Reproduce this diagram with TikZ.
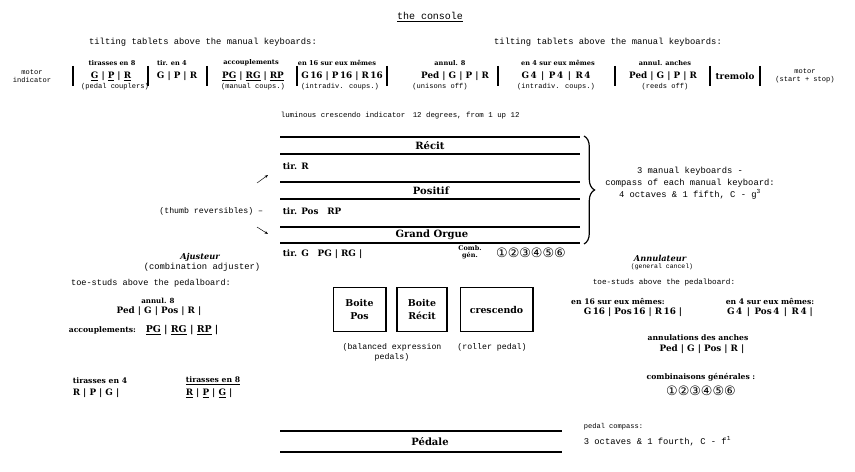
\documentclass[tikz,border=0pt]{standalone}
\usepackage{fontspec}
\newfontfamily\slabfont{DejaVu Serif}
\newfontfamily\typefont{Liberation Mono}
\newfontfamily\circfont{DejaVu Sans}
\usetikzlibrary{arrows.meta, positioning, decorations.pathreplacing}

\tikzset{
  note/.style={font=\typefont\fontsize{6}{7}\selectfont, inner sep=0.5pt, align=center},
  remark/.style={font=\typefont\fontsize{7.5}{10}\selectfont, inner sep=0.5pt, align=center},
  tabhead/.style={font=\slabfont\bfseries\fontsize{5.6}{7}\selectfont, inner sep=0.5pt},
  tablet/.style={font=\slabfont\bfseries\fontsize{7.5}{9}\selectfont, inner sep=0.5pt},
  manual/.style={font=\slabfont\bfseries\fontsize{8.5}{10}\selectfont, inner sep=0.5pt},
  headital/.style={font=\slabfont\bfseries\itshape\fontsize{7}{8}\selectfont, inner sep=0.5pt},
  kbline/.style={line width=0.9pt},
  sepbar/.style={line width=1.3pt},
  pedalbox/.style={draw, line width=0.9pt, minimum height=38pt, align=center,
    font=\slabfont\bfseries\fontsize{8}{11}\selectfont},
  circles/.style={font=\circfont\fontsize{11}{12}\selectfont, inner sep=0pt},
}

\begin{document}
\begin{tikzpicture}[x=0.85pt, y=-0.85pt]
  \useasboundingbox (0,0) rectangle (855,472);
  % headings
  \node[remark, font=\typefont\fontsize{8.5}{10}\selectfont] (title) at (430,17) {\underline{the console}};
  \node[remark] (tiltleft) at (203,42) {tilting tablets above the manual keyboards:};
  \node[remark] (tiltright) at (608,42) {tilting tablets above the manual keyboards:};
  % row of tilting tablets
  \node[note] (motorind) at (32,76) {motor\\indicator};
  \node[tabhead] (tir8head) at (112,63) {tirasses en 8};
  \node[tablet] (tir8) at (111,76) {\underline{G} | \underline{P} | \underline{R}};
  \node[note] (tir8note) at (115,87) {(pedal couplers)};
  \node[tabhead] (tir4head) at (172,63) {tir. en 4};
  \node[tablet] (tir4) at (177,76) {G | P | R};
  \node[tabhead] (acchead) at (251,63) {accouplements};
  \node[tablet] (acc) at (253,76) {\underline{PG} | \underline{RG} | \underline{RP}};
  \node[note] (accnote) at (253,87) {(manual coups.)};
  \node[tabhead] (sub16head) at (337,63) {en 16 sur eux mêmes};
  \node[tablet] (sub16) at (342,76) {G\,16 | P\,16 | R\,16};
  \node[note] (sub16note) at (340,87) {(intradiv. coups.)};
  \node[tabhead] (annul8head) at (450,63) {annul. 8};
  \node[tablet] (annul8) at (455,76) {Ped | G | P | R};
  \node[note] (annul8note) at (440,87) {(unisons off)};
  \node[tabhead] (sup4head) at (558,63) {en 4 sur eux mêmes};
  \node[tablet] (sup4) at (556,76) {G\,4 \,|\, P\,4 \,|\, R\,4};
  \node[note] (sup4note) at (556,87) {(intradiv. coups.)};
  \node[tabhead] (ancheshead) at (665,63) {annul. anches};
  \node[tablet] (anches) at (663,76) {Ped | G | P | R};
  \node[note] (anchesnote) at (665,87) {(reeds off)};
  \node[tablet] (tremolo) at (735,76) {tremolo};
  \node[note] (motorss) at (805,76) {motor\\(start + stop)};
  \foreach \x in {73,148,207,297,387,498,615,710,760}
    \draw[sepbar] (\x,66) -- (\x,86);
  \node[note, anchor=west, font=\typefont\fontsize{6.3}{7}\selectfont] (lumin) at (280,116)
    {luminous crescendo indicator\quad 12 degrees, from 1 up 12};
  % manual keyboards
  \foreach \y in {137,154,182,199,227,243}
    \draw[kbline] (280,\y) -- (580,\y);
  \node[manual] (recit) at (430,146) {Récit};
  \node[manual] (positif) at (431,191) {Positif};
  \node[manual] (grandorgue) at (432,235) {Grand Orgue};
  \node[tablet, anchor=west] (tirR) at (282,166) {tir. R};
  \node[tablet, anchor=west] (tirPos) at (282,211) {tir. Pos\quad RP};
  \node[tablet, anchor=west] (tirG) at (282,254) {tir. G\quad PG | RG |};
  \node[tabhead, align=center, font=\slabfont\bfseries\fontsize{5.5}{6}\selectfont] (combgen) at (470,252) {Comb.\\gén.};
  \node[circles] (combnum) at (531,253) {①②③④⑤⑥};
  \node[remark, anchor=east, font=\typefont\fontsize{7}{8}\selectfont] (thumb) at (264,211) {(thumb reversibles) –};
  \coordinate (upfrom) at (257,183);
  \coordinate (upto) at (268,175);
  \coordinate (downfrom) at (257,227);
  \coordinate (downto) at (268,234);
  \draw[-{Stealth[length=3pt]}] (upfrom) -- (upto);
  \draw[-{Stealth[length=3pt]}] (downfrom) -- (downto);
  \coordinate (bracetop) at (584,136);
  \coordinate (bracebot) at (584,244);
  \draw[line width=1pt, decorate, decoration={brace, amplitude=9pt}] (bracetop) -- (bracebot);
  \node[remark] (compassman) at (690,183)
    {3 manual keyboards -\\compass of each manual keyboard:\\4 octaves \& 1 fifth, C - g\textsuperscript{3}};
  % combination adjuster side
  \node[headital] (ajusteur) at (200,257) {Ajusteur};
  \node[remark] (ajusteurnote) at (202,267) {(combination adjuster)};
  \node[remark, font=\typefont\fontsize{7.3}{9}\selectfont] (toeleft) at (151,283) {toe-studs above the pedalboard:};
  \node[tabhead, font=\slabfont\bfseries\fontsize{6}{7}\selectfont] (annul8bhead) at (158,301) {annul. 8};
  \node[tablet] (annul8b) at (159,311) {Ped | G | Pos | R |};
  \node[tabhead, anchor=west, font=\slabfont\bfseries\fontsize{6.5}{7}\selectfont] (accbhead) at (68,330) {accouplements:};
  \node[tablet, anchor=west, font=\slabfont\bfseries\fontsize{8}{9}\selectfont] (accb) at (145,330)
    {\underline{PG} | \underline{RG} | \underline{RP} |};
  \node[tabhead, anchor=west, font=\slabfont\bfseries\fontsize{6.5}{7}\selectfont] (tir4bhead) at (72,381) {tirasses en 4};
  \node[tablet, anchor=west] (tir4b) at (72,393) {R | P | G |};
  \node[tabhead, anchor=west, font=\slabfont\bfseries\fontsize{6.5}{7}\selectfont] (tir8bhead) at (185,381) {\underline{tirasses en 8}};
  \node[tablet, anchor=west] (tir8b) at (185,393) {\underline{R} | \underline{P} | \underline{G} |};
  % expression pedals
  \node[pedalbox, minimum width=45pt] (boxpos) at (359.5,309.5) {Boite\\Pos};
  \node[pedalbox, minimum width=42.5pt] (boxrecit) at (422,309.5) {Boite\\Récit};
  \node[pedalbox, minimum width=62pt] (boxcresc) at (496.5,309.5) {crescendo};
  \node[remark, font=\typefont\fontsize{7}{8.5}\selectfont] (balanced) at (392,352) {(balanced expression\\pedals)};
  \node[remark, font=\typefont\fontsize{7}{8.5}\selectfont] (roller) at (492,347) {(roller pedal)};
  % general cancel side
  \node[headital] (annulateur) at (660,258) {Annulateur};
  \node[note, font=\typefont\fontsize{5.5}{6}\selectfont] (annulnote) at (662,267) {(general cancel)};
  \node[remark, font=\typefont\fontsize{6.5}{8}\selectfont] (toeright) at (664,283) {toe-studs above the pedalboard:};
  \node[tabhead, font=\slabfont\bfseries\fontsize{6.5}{7}\selectfont] (sub16bhead) at (618,301) {en 16 sur eux mêmes:};
  \node[tablet] (sub16b) at (633,312) {G\,16 | Pos\,16 | R\,16 |};
  \node[tabhead, font=\slabfont\bfseries\fontsize{6.5}{7}\selectfont] (sup4bhead) at (770,301) {en 4 sur eux mêmes:};
  \node[tablet] (sup4b) at (770,312) {G\,4 \,|\, Pos\,4 \,|\, R\,4 |};
  \node[tabhead, font=\slabfont\bfseries\fontsize{6.5}{7}\selectfont] (anchesbhead) at (698,338) {annulations des anches};
  \node[tablet] (anchesb) at (702,349) {Ped | G | Pos | R |};
  \node[tabhead, font=\slabfont\bfseries\fontsize{6.5}{7}\selectfont] (combhead) at (701,377) {combinaisons générales :};
  \node[circles] (combgennum) at (701,391) {①②③④⑤⑥};
  % pedal keyboard
  \foreach \y in {431,452}
    \draw[kbline] (280,\y) -- (562,\y);
  \node[manual] (pedale) at (430,442) {Pédale};
  \node[remark, anchor=west, font=\typefont\fontsize{6}{8}\selectfont] (pedcomp) at (583,427) {pedal compass:};
  \node[remark, anchor=west] (pedrange) at (583,441) {3 octaves \& 1 fourth, C - f\textsuperscript{1}};
\end{tikzpicture}
\end{document}
